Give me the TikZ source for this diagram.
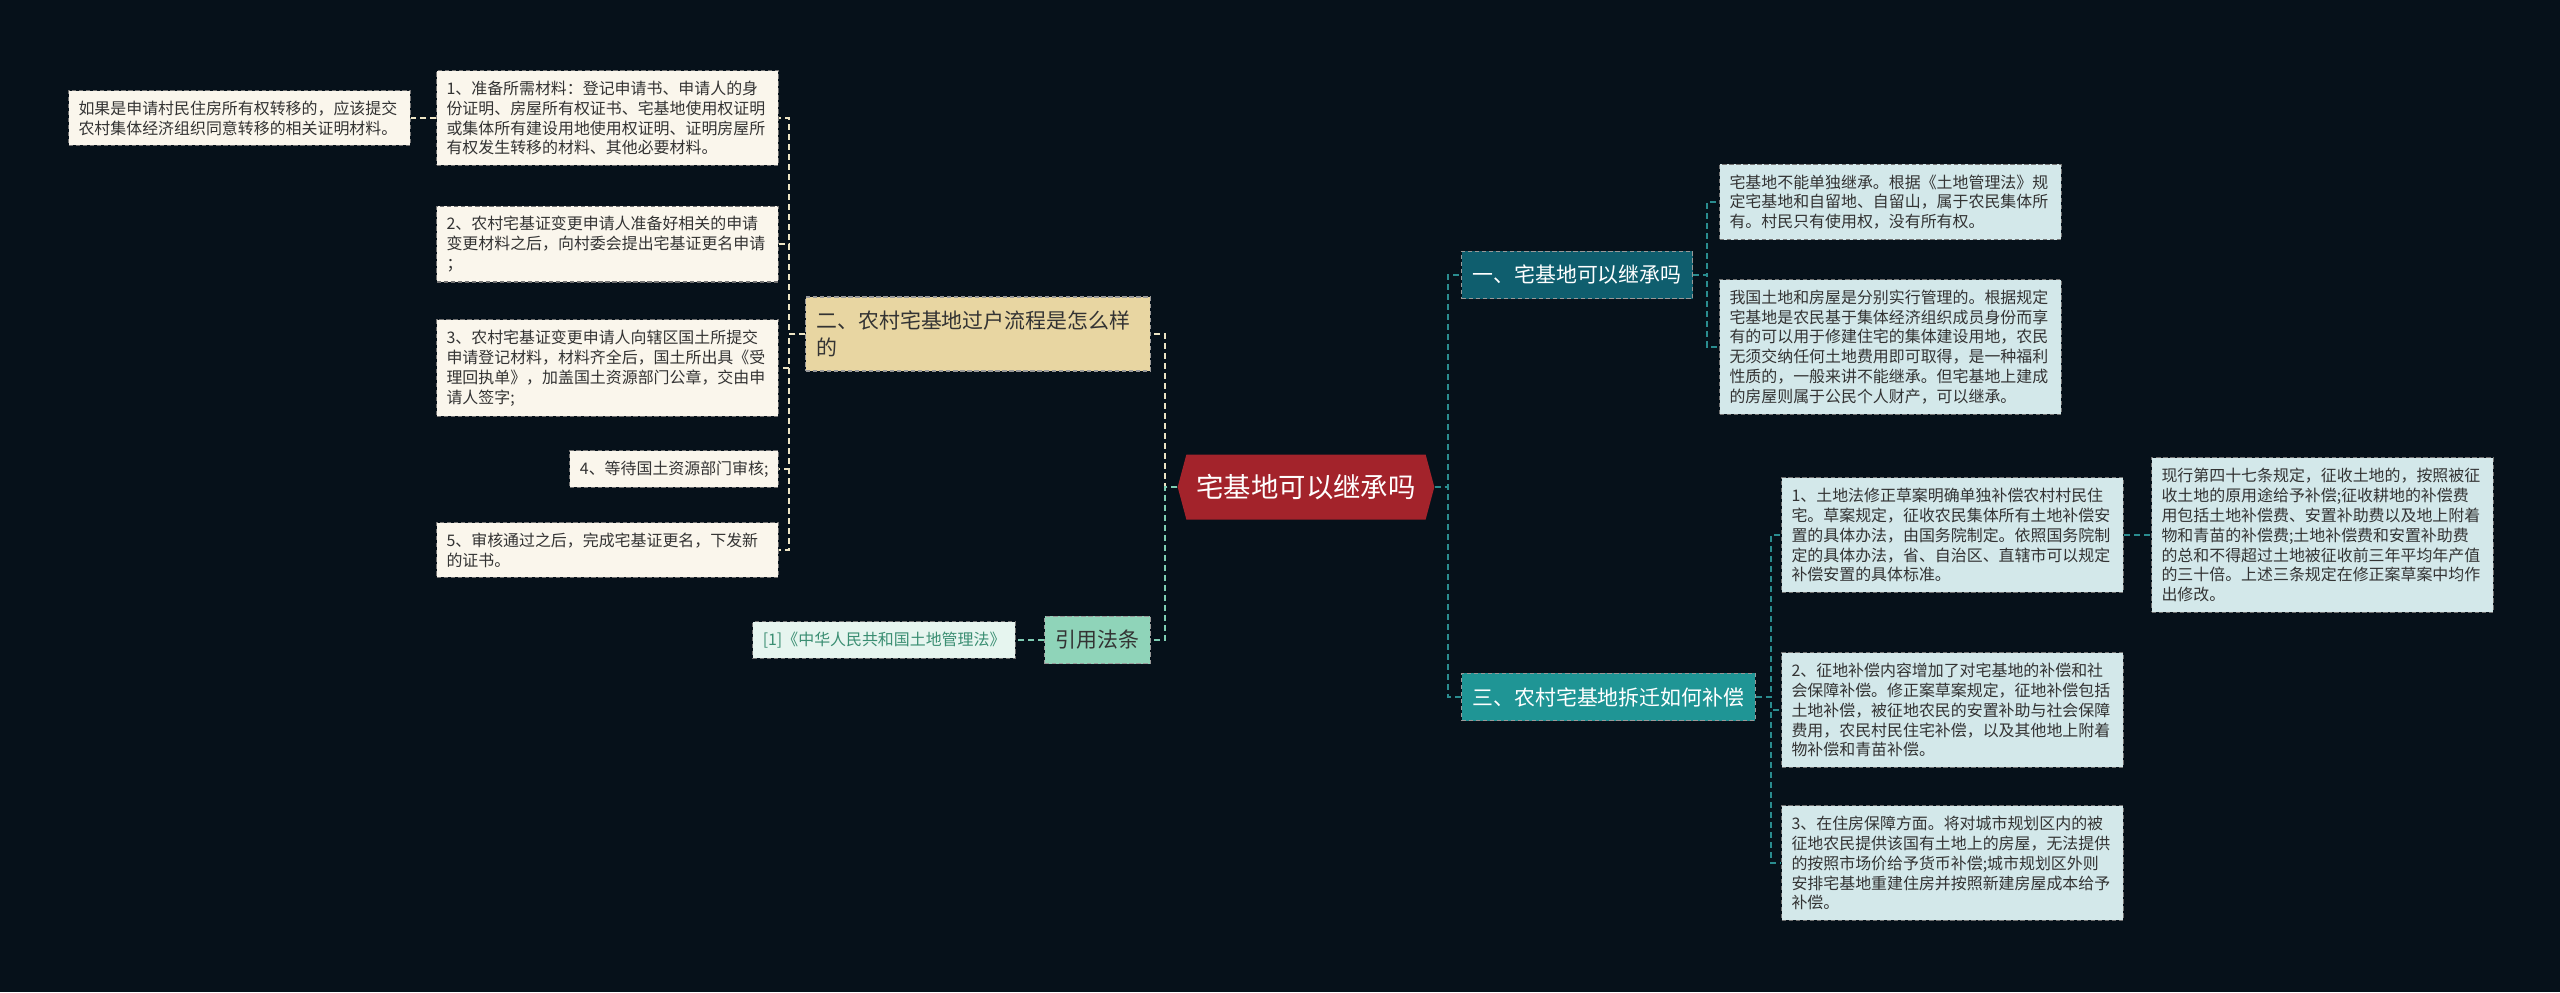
\documentclass[tikz,border=0pt]{standalone}
\usepackage{fontspec}
\setmainfont{Noto Sans CJK SC}
\usepackage{tikz}
\usetikzlibrary{shapes.symbols}
\definecolor{bgnavy}{HTML}{06111A}
\definecolor{rootred}{HTML}{A3232B}
\definecolor{tealdark}{HTML}{0F5E6E}
\definecolor{tealmid}{HTML}{1F9595}
\definecolor{leafblue}{HTML}{D3E8EA}
\definecolor{cream}{HTML}{FAF6EC}
\definecolor{beige}{HTML}{E8D6A2}
\definecolor{mint}{HTML}{8FD4B9}
\definecolor{mintpale}{HTML}{E6F5EF}
\definecolor{minttext}{HTML}{3A8E72}
\definecolor{lnkcream}{HTML}{EDE5C5}
\definecolor{lnkteal}{HTML}{2A8C8F}
\definecolor{lnkmint}{HTML}{7FCDB3}
\tikzset{
  leafl/.style={fill=cream, draw=black!55, dashed, dash pattern=on 2.5pt off 1.5pt, line width=0.6pt, text=black!80, font=\fontsize{9.07pt}{11.34pt}\selectfont, text width=6.44cm, inner xsep=0.2cm, inner ysep=0.2cm, align=left},
  leafr/.style={leafl, fill=leafblue},
  branchbox/.style={draw=white!60!black, dashed, dash pattern=on 2.5pt off 1.5pt, line width=0.6pt, font=\fontsize{11.9pt}{15.3pt}\selectfont, inner xsep=0.22cm, inner ysep=0.28cm, align=left},
  rootnode/.style={shape=signal, signal to=west and east, signal pointer angle=150, fill=rootred, text=white, font=\fontsize{15.6pt}{18pt}\selectfont, minimum width=4.85cm, minimum height=1.3cm, inner xsep=0.2cm},
  lnkl/.style={draw=lnkcream, dashed, dash pattern=on 3.4pt off 2.3pt, line width=1.1pt},
  lnkm/.style={lnkl, draw=lnkmint},
  lnkr/.style={lnkl, draw=lnkteal}
}
\begin{document}
\begin{tikzpicture}[x=0.02cm,y=-0.02cm]
\fill[bgnavy] (0,0) rectangle (2560,992);
\useasboundingbox (0,0) rectangle (2560,992);
\node[rootnode] (root) at (1306,487) {宅基地可以继承吗};
\node[branchbox, fill=beige, text=black!80, text width=6.46cm, anchor=east] (flow) at (1151,334) {二、农村宅基地过户流程是怎么样\\的};
\node[branchbox, fill=mint, text=black!80, anchor=east] (cite) at (1151,640) {引用法条};
\node[leafl, fill=mintpale, text=minttext, text width=, anchor=east] (law) at (1016,640) {[1]《中华人民共和国土地管理法》};
\node[branchbox, fill=tealdark, text=white, anchor=west] (inherit) at (1461,275) {一、宅基地可以继承吗};
\node[branchbox, fill=tealmid, text=white, anchor=west] (comp) at (1461,697) {三、农村宅基地拆迁如何补偿};
\node[leafl, anchor=east] (stepa) at (779,118) {1、准备所需材料：登记申请书、申请人的身\\份证明、房屋所有权证书、宅基地使用权证明\\或集体所有建设用地使用权证明、证明房屋所\\有权发生转移的材料、其他必要材料。};
\node[leafl, anchor=east] (stepax) at (411,118) {如果是申请村民住房所有权转移的，应该提交\\农村集体经济组织同意转移的相关证明材料。};
\node[leafl, anchor=east] (stepb) at (779,244) {2、农村宅基证变更申请人准备好相关的申请\\变更材料之后，向村委会提出宅基证更名申请\\；};
\node[leafl, anchor=east] (stepc) at (779,368) {3、农村宅基证变更申请人向辖区国土所提交\\申请登记材料，材料齐全后，国土所出具《受\\理回执单》，加盖国土资源部门公章，交由申\\请人签字;};
\node[leafl, text width=, anchor=east] (stepd) at (779,469) {4、等待国土资源部门审核;};
\node[leafl, anchor=east] (stepe) at (779,550) {5、审核通过之后，完成宅基证更名，下发新\\的证书。};
\node[leafr, anchor=west] (inha) at (1719,202) {宅基地不能单独继承。根据《土地管理法》规\\定宅基地和自留地、自留山，属于农民集体所\\有。村民只有使用权，没有所有权。};
\node[leafr, anchor=west] (inhb) at (1719,347) {我国土地和房屋是分别实行管理的。根据规定\\宅基地是农民基于集体经济组织成员身份而享\\有的可以用于修建住宅的集体建设用地，农民\\无须交纳任何土地费用即可取得，是一种福利\\性质的，一般来讲不能继承。但宅基地上建成\\的房屋则属于公民个人财产，可以继承。};
\node[leafr, anchor=west] (compa) at (1781,535) {1、土地法修正草案明确单独补偿农村村民住\\宅。草案规定，征收农民集体所有土地补偿安\\置的具体办法，由国务院制定。依照国务院制\\定的具体办法，省、自治区、直辖市可以规定\\补偿安置的具体标准。};
\node[leafr, anchor=west] (compax) at (2151,535) {现行第四十七条规定，征收土地的，按照被征\\收土地的原用途给予补偿;征收耕地的补偿费\\用包括土地补偿费、安置补助费以及地上附着\\物和青苗的补偿费;土地补偿费和安置补助费\\的总和不得超过土地被征收前三年平均年产值\\的三十倍。上述三条规定在修正案草案中均作\\出修改。};
\node[leafr, anchor=west] (compb) at (1781,710) {2、征地补偿内容增加了对宅基地的补偿和社\\会保障补偿。修正案草案规定，征地补偿包括\\土地补偿，被征地农民的安置补助与社会保障\\费用，农民村民住宅补偿，以及其他地上附着\\物补偿和青苗补偿。};
\node[leafr, anchor=west] (compc) at (1781,863) {3、在住房保障方面。将对城市规划区内的被\\征地农民提供该国有土地上的房屋，无法提供\\的按照市场价给予货币补偿;城市规划区外则\\安排宅基地重建住房并按照新建房屋成本给予\\补偿。};
\draw[lnkl] (root.west) -- ++(-12,0) |- (flow.east);
\draw[lnkm] (root.west) -- ++(-12,0) |- (cite.east);
\draw[lnkm] (cite.west) -- (law.east);
\draw[lnkl] (flow.west) -- ++(-16,0) |- (stepa.east);
\draw[lnkl] (flow.west) -- ++(-16,0) |- (stepb.east);
\draw[lnkl] (flow.west) -- ++(-16,0) |- (stepc.east);
\draw[lnkl] (flow.west) -- ++(-16,0) |- (stepd.east);
\draw[lnkl] (flow.west) -- ++(-16,0) |- (stepe.east);
\draw[lnkl] (stepa.west) -- (stepax.east);
\draw[lnkr] (root.east) -- ++(13,0) |- (inherit.west);
\draw[lnkr] (root.east) -- ++(13,0) |- (comp.west);
\draw[lnkr] (inherit.east) -- ++(14,0) |- (inha.west);
\draw[lnkr] (inherit.east) -- ++(14,0) |- (inhb.west);
\draw[lnkr] (comp.east) -- ++(15,0) |- (compa.west);
\draw[lnkr] (comp.east) -- ++(15,0) |- (compb.west);
\draw[lnkr] (comp.east) -- ++(15,0) |- (compc.west);
\draw[lnkr] (compa.east) -- (compax.west);
\end{tikzpicture}
\end{document}
